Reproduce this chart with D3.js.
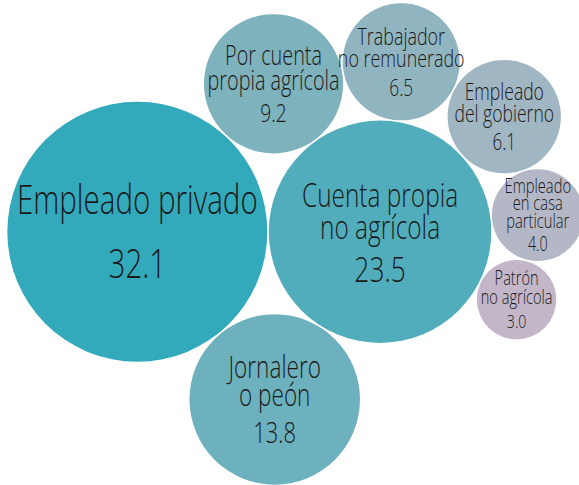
<!DOCTYPE html>
<meta charset="utf-8">
<script src="https://cdn.jsdelivr.net/npm/d3@7"></script>
<style>
    body { margin: 0; background: #fff; }
    .label { font-family: "Open Sans", sans-serif; font-weight: 300; fill: #1a1a1a; text-anchor: middle; }
</style>
<body>
<div id="chart"></div>
<script>
    const width = 579;
    const height = 485;

    // categories (line breaks as in the picture) and their shares
    const categories = [
        "Empleado privado",
        "Cuenta propia\nno agrícola",
        "Jornalero\no peón",
        "Por cuenta\npropia agrícola",
        "Trabajador\nno remunerado",
        "Empleado\ndel gobierno",
        "Empleado\nen casa\nparticular",
        "Patrón\nno agrícola"
    ];
    const values = [32.1, 23.5, 13.8, 9.2, 6.5, 6.1, 4.0, 3.0];

    const palette = ["#33aabb", "#51adbc", "#6cb1bd", "#7eb2bd", "#90b5c1", "#a1b6c3", "#b3b7c6", "#c2b6c8"];

    // each bubble sits against two earlier ones: [first, second, side]
    const anchors = [null, null, [0, 1, 1], [0, 1, -1], [3, 1, -1], [4, 1, -1], [5, 1, -1], [6, 1, -1]];

    const pad = 0.75;
    const squeeze = 0.74; // narrow the font like a condensed face

    const r = d3.scaleSqrt().domain([0, d3.max(values)]).range([0, 130]);

    var nodes = values.map((v, i) => ({
        name: categories[i],
        value: v,
        color: palette[i],
        rr: r(v),
        r: r(v) + pad
    }));

    // tangent placement, same idea as d3.packSiblings
    function place(a, b, c, side) {
        var dx = b.x - a.x, dy = b.y - a.y;
        var d = Math.sqrt(dx * dx + dy * dy);
        var ra = a.r + c.r, rb = b.r + c.r;
        var along = (d * d + ra * ra - rb * rb) / (2 * d);
        var h = Math.sqrt(Math.max(0, ra * ra - along * along));
        var ux = dx / d, uy = dy / d;
        c.x = a.x + along * ux - side * h * uy;
        c.y = a.y + along * uy + side * h * ux;
    }

    nodes[0].x = 0; nodes[0].y = 0;
    nodes[1].x = nodes[0].r + nodes[1].r; nodes[1].y = 0;
    for (var i = 2; i < nodes.length; i++) {
        var an = anchors[i];
        place(nodes[an[0]], nodes[an[1]], nodes[i], an[2]);
    }

    // center the bounding box in the window
    var x0 = d3.min(nodes, d => d.x - d.rr), x1 = d3.max(nodes, d => d.x + d.rr);
    var y0 = d3.min(nodes, d => d.y - d.rr), y1 = d3.max(nodes, d => d.y + d.rr);
    var dx = width / 2 + 6 - (x0 + x1) / 2;
    var dy = height / 2 + 1.5 - (y0 + y1) / 2;

    var svg = d3.select("#chart").append("svg")
        .attr("width", width)
        .attr("height", height);

    var g = svg.selectAll("g.bubble")
        .data(nodes)
        .join("g")
        .attr("class", "bubble")
        .attr("transform", d => `translate(${d.x + dx},${d.y + dy})`);

    g.append("circle")
        .attr("r", d => d.rr)
        .attr("fill", d => d.color);

    g.each(function (d) {
        var lines = d.name.split("\n");
        var fs = 10 + 0.23 * d.rr;
        var nfs = fs;
        if (lines.length > 1) nfs = Math.min(fs * 1.03, 33);
        if (lines.length > 2) { nfs *= 0.94; fs *= 0.94; }
        var lh = nfs * (lines.length > 2 ? 0.88 : 0.95);
        var gap = lines.length == 1 ? fs * 1.6 : fs * 1.22;
        var ys = lines.map((l, i) => i * lh);
        var yv = ys[ys.length - 1] + gap;
        var shift = -yv / 2 + fs * 0.36;

        var t = d3.select(this).append("text")
            .attr("class", "label")
            .attr("transform", `scale(${squeeze},1)`);

        lines.forEach((l, i) => {
            t.append("tspan").attr("x", 0).attr("y", ys[i] + shift)
                .style("font-size", nfs + "px").text(l);
        });
        t.append("tspan").attr("x", 0).attr("y", yv + shift)
            .style("font-size", fs + "px").text(d.value.toFixed(1));
    });
</script>
</body>
